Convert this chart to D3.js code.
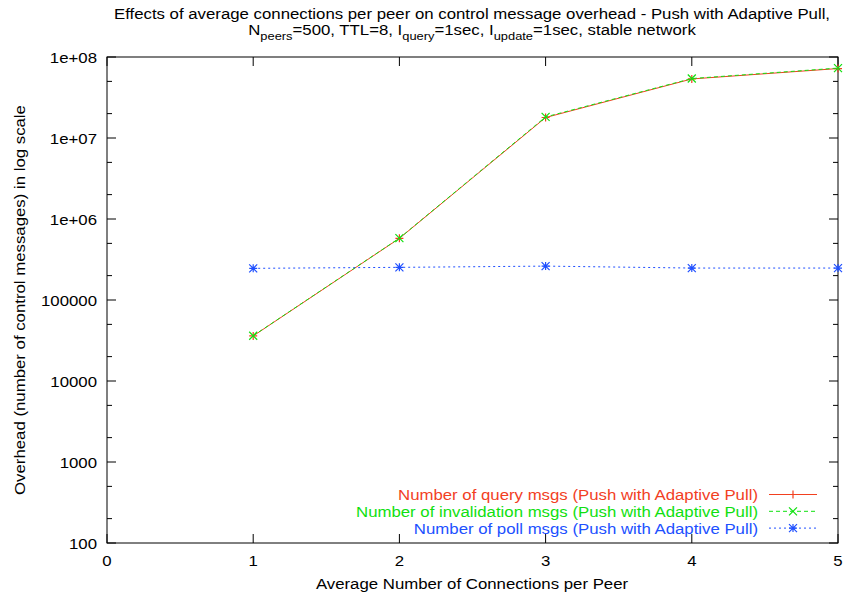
<!DOCTYPE html>
<html>
<head>
<meta charset="utf-8">
<script src="https://cdn.jsdelivr.net/npm/d3@7"></script>
<style>
  body { margin: 0; background: #fff; }
  svg text { font-family: "Liberation Sans", Arial, Helvetica, sans-serif; fill: #000; }
</style>
</head>
<body>
<div id="chart"></div>
<script>
"use strict";

// data
var connections = [1, 2, 3, 4, 5];
var queryMsgs = [36000, 577000, 17900000, 53600000, 72000000];
var invalidationMsgs = [36200, 580000, 18200000, 54200000, 73000000];
var pollMsgs = [246000, 253000, 262000, 248000, 248000];

var xTicks = [0, 1, 2, 3, 4, 5];
var yTicks = [100, 1000, 10000, 100000, 1e6, 1e7, 1e8];
var yTickLabels = ["100", "1000", "10000", "100000", "1e+06", "1e+07", "1e+08"];

var series = [
    { name: "Number of query msgs (Push with Adaptive Pull)", values: queryMsgs, color: "#f2401f", dash: null, marker: "plus" },
    { name: "Number of invalidation msgs (Push with Adaptive Pull)", values: invalidationMsgs, color: "#10e010", dash: "4,3", marker: "cross" },
    { name: "Number of poll msgs (Push with Adaptive Pull)", values: pollMsgs, color: "#2050ff", dash: "2,3", marker: "star" }
];

var width = 843, height = 597;
var margin = { left: 107, right: 5, top: 57, bottom: 54 };
var fontSize = 15;
var stretch = 1.12; // the reference font is wider than Liberation Sans

var svg = d3.select("#chart").append("svg")
    .attr("width", width)
    .attr("height", height);

var x = d3.scaleLinear().domain([0, 5]).range([margin.left, width - margin.right]);
var y = d3.scaleLog().domain([100, 1e8]).range([height - margin.bottom, margin.top]);

// text helper: places text at (tx,ty), stretched horizontally
function addText(parent, tx, ty, str, anchor, rotate) {
    var tr = "translate(" + tx + "," + ty + ")" + (rotate ? " rotate(" + rotate + ")" : "") + " scale(" + stretch + ",1)";
    return parent.append("text")
        .attr("transform", tr)
        .attr("text-anchor", anchor || "start")
        .attr("font-size", fontSize)
        .text(str);
}

// minor ticks at 2 and 5 in each decade
var minorTicks = [];
yTicks.slice(0, -1).forEach(function (t) { minorTicks.push(t * 2, t * 5); });

var axes = svg.append("g").attr("class", "axes");

// tick marks pointing inward, mirrored on the opposite side
function drawYTicks(values, len) {
    values.forEach(function (v) {
        axes.append("line")
            .attr("x1", x(0)).attr("x2", x(0) + len)
            .attr("y1", y(v)).attr("y2", y(v))
            .attr("stroke", "#000");
        axes.append("line")
            .attr("x1", x(5)).attr("x2", x(5) - len)
            .attr("y1", y(v)).attr("y2", y(v))
            .attr("stroke", "#000");
    });
}
drawYTicks(yTicks, 9);
drawYTicks(minorTicks, 5);

xTicks.forEach(function (v) {
    axes.append("line")
        .attr("x1", x(v)).attr("x2", x(v))
        .attr("y1", y(100)).attr("y2", y(100) - 9)
        .attr("stroke", "#000");
    axes.append("line")
        .attr("x1", x(v)).attr("x2", x(v))
        .attr("y1", y(1e8)).attr("y2", y(1e8) + 9)
        .attr("stroke", "#000");
});

// frame
axes.append("rect")
    .attr("x", x(0)).attr("y", y(1e8))
    .attr("width", x(5) - x(0)).attr("height", y(100) - y(1e8))
    .attr("fill", "none").attr("stroke", "#000").attr("stroke-width", 1);

// tick labels
yTicks.forEach(function (d, i) {
    addText(axes, x(0) - 10, y(d) + 5.5, yTickLabels[i], "end");
});
xTicks.forEach(function (d) {
    addText(axes, x(d), y(100) + 23, String(d), "middle");
});

// axis titles
addText(svg, 472, 589, "Average Number of Connections per Peer", "middle");
addText(svg, 25, (y(100) + y(1e8)) / 2, "Overhead (number of control messages) in log scale", "middle", -90);

// title, two lines with subscripts
addText(svg, 472, 18.5, "Effects of average connections per peer on control message overhead - Push with Adaptive Pull,", "middle");

var t2 = addText(svg, 472, 35, "", "middle");
var parts = [
    ["N", false], ["peers", true], ["=500, TTL=8, I", false], ["query", true],
    ["=1sec, I", false], ["update", true], ["=1sec, stable network", false]
];
parts.forEach(function (p, i) {
    var ts = t2.append("tspan").text(p[0]);
    if (p[1]) ts.attr("font-size", 11.5).attr("dy", 5);
    else ts.attr("dy", i === 0 ? 0 : -5);
});

// markers
function drawMarker(g, cx, cy, type, color) {
    var s = 4;
    var path = "";
    if (type === "plus" || type === "star") {
        path += "M" + (cx - s) + "," + cy + "H" + (cx + s) + "M" + cx + "," + (cy - s) + "V" + (cy + s);
    }
    if (type === "cross" || type === "star") {
        path += "M" + (cx - s) + "," + (cy - s) + "L" + (cx + s) + "," + (cy + s) +
            "M" + (cx - s) + "," + (cy + s) + "L" + (cx + s) + "," + (cy - s);
    }
    g.append("path").attr("d", path).attr("stroke", color).attr("stroke-width", 1.2).attr("fill", "none");
}

var line = d3.line()
    .x(function (d) { return x(d[0]); })
    .y(function (d) { return y(d[1]); });

var plot = svg.append("g").attr("class", "series");
series.forEach(function (s) {
    var pts = connections.map(function (c, i) { return [c, s.values[i]]; });
    var g = plot.append("g");
    g.append("path")
        .attr("d", line(pts))
        .attr("fill", "none")
        .attr("stroke", s.color)
        .attr("stroke-width", 1)
        .attr("stroke-dasharray", s.dash);
    pts.forEach(function (p) { drawMarker(g, x(p[0]), y(p[1]), s.marker, s.color); });
});

// legend
var legend = svg.append("g").attr("class", "legend");
series.forEach(function (s, i) {
    var ly = 494.5 + i * 16.8;
    addText(legend, 758, ly + 5.5, s.name, "end")
        .attr("style", "fill:" + s.color);
    legend.append("line")
        .attr("x1", 769).attr("x2", 817)
        .attr("y1", ly).attr("y2", ly)
        .attr("stroke", s.color)
        .attr("stroke-dasharray", s.dash);
    drawMarker(legend, 793, ly, s.marker, s.color);
});
</script>
</body>
</html>
